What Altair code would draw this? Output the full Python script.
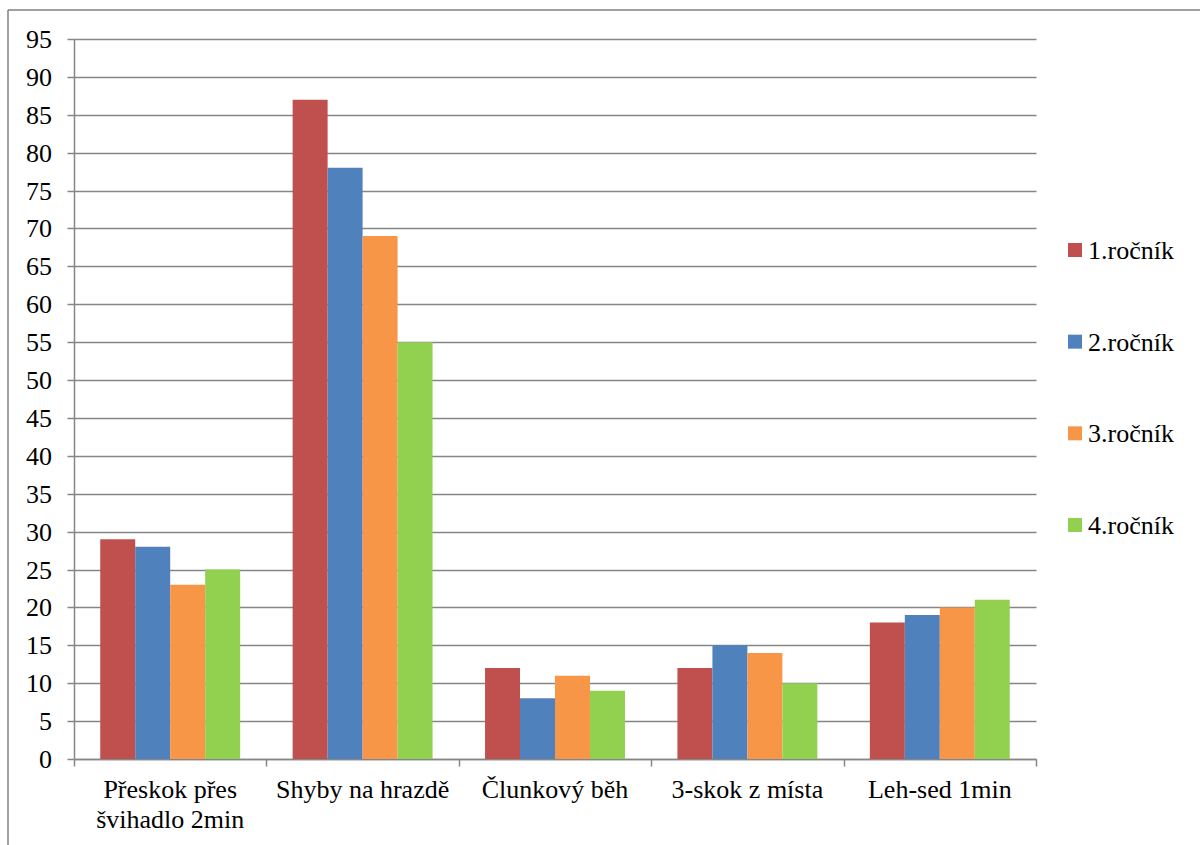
import altair as alt
import pandas as pd

# Test categories and the four school years
categories = ["Přeskok přes švihadlo 2min", "Shyby na hrazdě", "Člunkový běh",
              "3-skok z místa", "Leh-sed 1min"]
series = ["1.ročník", "2.ročník", "3.ročník", "4.ročník"]

rocnik_1 = [29, 87, 12, 12, 18]
rocnik_2 = [28, 78, 8, 15, 19]
rocnik_3 = [23, 69, 11, 14, 20]
rocnik_4 = [25, 55, 9, 10, 21]

colors = ["#C0504D", "#4F81BD", "#F79646", "#92D050"]
y_ticks = list(range(0, 96, 5))

rows = []
for name, vals in zip(series, [rocnik_1, rocnik_2, rocnik_3, rocnik_4]):
    for cat, v in zip(categories, vals):
        rows.append({"kategorie": cat, "rocnik": name, "hodnota": v})
df = pd.DataFrame(rows)

cat_df = pd.DataFrame({
    "kategorie": categories,
    "popisek": [c.replace(" švihadlo", "|švihadlo") for c in categories],
})
tick_df = pd.DataFrame({"hodnota": y_ticks})
legend_df = pd.DataFrame({"rocnik": series})

FONT = "Liberation Serif"
FS = 26
GRID = "#868686"
W, H = 962, 720
PAD_L, PAD_T = 74, 39

y_scale = alt.Scale(domain=[0, 95], nice=False)
color_scale = alt.Scale(domain=series, range=colors)

bars = alt.Chart(df).mark_bar().encode(
    x=alt.X(
        "kategorie:N",
        sort=categories,
        title=None,
        scale=alt.Scale(paddingInner=0, paddingOuter=0),
        axis=alt.Axis(labels=False, tickBand="extent", grid=False,
                      tickSize=7, tickColor=GRID, tickWidth=1.5,
                      domainColor=GRID, domainWidth=1.5),
    ),
    xOffset=alt.XOffset(
        "rocnik:N",
        sort=series,
        scale=alt.Scale(paddingInner=0, paddingOuter=0.75),
    ),
    y=alt.Y(
        "hodnota:Q",
        title=None,
        scale=y_scale,
        axis=alt.Axis(values=y_ticks, labels=False, gridColor=GRID, gridWidth=1.5,
                      tickSize=7, tickColor=GRID, tickWidth=1.5,
                      domainColor=GRID, domainWidth=1.5),
    ),
    color=alt.Color("rocnik:N", sort=series, scale=color_scale, legend=None),
)

# Value labels of the vertical axis
y_labels = alt.Chart(tick_df).mark_text(
    font=FONT, fontSize=FS, align="right", baseline="middle", color="black", dy=1
).encode(
    x=alt.value(-22),
    y=alt.Y("hodnota:Q", scale=y_scale, axis=None),
    text=alt.Text("hodnota:Q"),
)

# Category names under the bars (two lines for the first one)
x_labels = alt.Chart(cat_df).mark_text(
    font=FONT, fontSize=FS, align="center", baseline="alphabetic",
    lineBreak="|", lineHeight=30, color="black"
).encode(
    x=alt.X("kategorie:N", sort=categories),
    y=alt.value(H + 39),
    text="popisek:N",
)

# Legend on the right: colour squares and names
leg_y = alt.Y("rocnik:N", sort=series, axis=None,
              scale=alt.Scale(domain=series, range=[211, 486], padding=0))
legend_sq = alt.Chart(legend_df).mark_square(size=196, opacity=1).encode(
    x=alt.value(1001),
    y=leg_y,
    color=alt.Color("rocnik:N", sort=series, scale=color_scale, legend=None),
)
legend_txt = alt.Chart(legend_df).mark_text(
    font=FONT, fontSize=FS, align="left", baseline="middle", color="black", dy=1
).encode(
    x=alt.value(1014),
    y=leg_y,
    text="rocnik:N",
)

# Outer chart frame (top and left edges)
frame_data = alt.Data(values=[{}])
frame_top = alt.Chart(frame_data).mark_rule(color="#808080", strokeWidth=1.5).encode(
    x=alt.value(8 - PAD_L), x2=alt.value(1200 - PAD_L), y=alt.value(10 - PAD_T)
)
frame_left = alt.Chart(frame_data).mark_rule(color="#808080", strokeWidth=1.5).encode(
    x=alt.value(8 - PAD_L), y=alt.value(10 - PAD_T), y2=alt.value(845 - PAD_T)
)

chart = (
    alt.layer(bars, y_labels, x_labels, legend_sq, legend_txt, frame_top, frame_left)
    .resolve_scale(y="independent")
    .resolve_axis(y="independent")
    .properties(
        width=W,
        height=H,
        autosize=alt.AutoSizeParams(type="none"),
        padding={"left": PAD_L, "top": PAD_T, "right": 1200 - PAD_L - W, "bottom": 845 - PAD_T - H},
        background="white",
    )
    .configure_view(stroke=None)
)

chart.save("out.html", embed_options={"renderer": "svg", "actions": False})
